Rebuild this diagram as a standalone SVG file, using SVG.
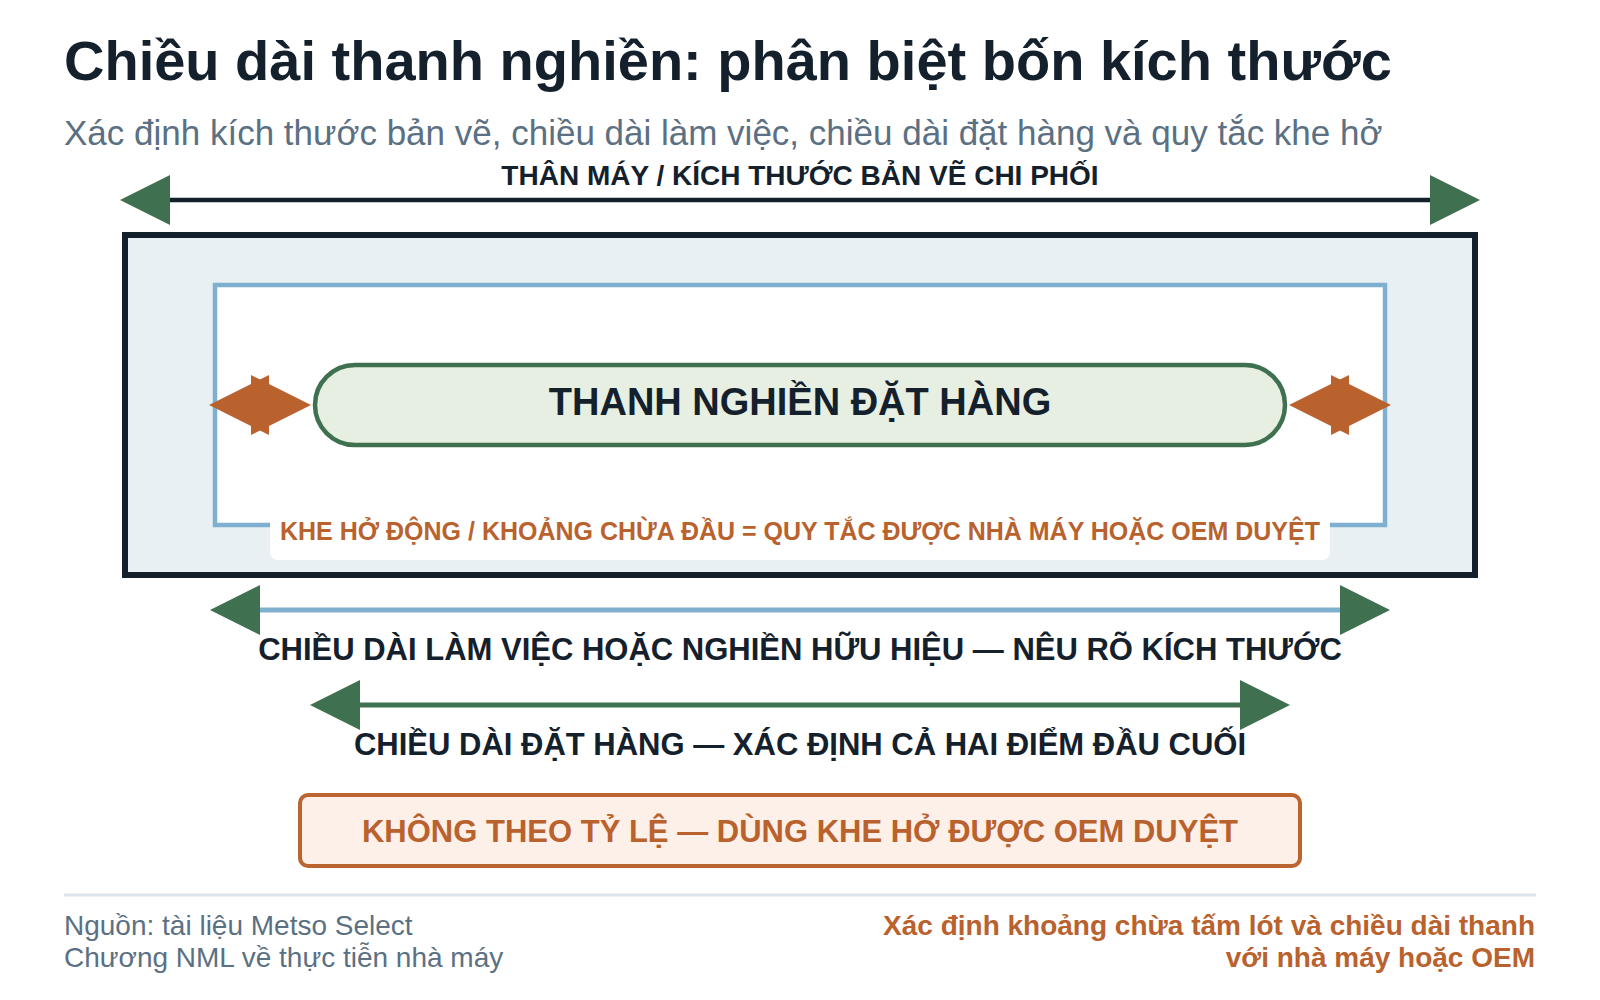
<svg xmlns="http://www.w3.org/2000/svg" width="1600" height="1000" viewBox="0 0 1600 1000">
  <style>
    text { font-family: "Liberation Sans", Arial, "Noto Sans", sans-serif; }
    .title { font-size: 56px; font-weight: 700; fill: #14212d; }
    .sub { font-size: 35px; fill: #5b7083; }
    .dim { font-size: 31px; font-weight: 700; fill: #14212d; text-anchor: middle; }
    .top { font-size: 28px; font-weight: 700; fill: #14212d; text-anchor: middle; }
    .pilltxt { font-size: 38px; font-weight: 700; fill: #14212d; text-anchor: middle; }
    .rule { font-size: 25px; font-weight: 700; fill: #b9622e; text-anchor: middle; }
    .warn { font-size: 31px; font-weight: 700; fill: #b9622e; text-anchor: middle; }
    .foot { font-size: 28px; fill: #5b7083; }
    .footr { font-size: 28px; font-weight: 700; fill: #b9622e; text-anchor: end; }
  </style>
  <defs>
    <marker id="garrow" viewBox="0 0 50 50" markerUnits="userSpaceOnUse" markerWidth="50" markerHeight="50" refX="0" refY="25" orient="auto-start-reverse">
      <path d="M0,0 L50,25 L0,50 Z" fill="#3f7150"/>
    </marker>
    <marker id="oarrow" viewBox="0 0 60 60" markerUnits="userSpaceOnUse" markerWidth="60" markerHeight="60" refX="54" refY="30" orient="auto-start-reverse">
      <path d="M0,0 L60,30 L0,60 Z" fill="#b9622e"/>
    </marker>
  </defs>
  <rect x="0" y="0" width="1600" height="1000" fill="#ffffff"/>

  <g id="header">
    <text class="title" x="64" y="80">Chiều dài thanh nghiền: phân biệt bốn kích thước</text>
    <text class="sub" x="64" y="145">Xác định kích thước bản vẽ, chiều dài làm việc, chiều dài đặt hàng và quy tắc khe hở</text>
  </g>

  <g id="shell">
    <rect x="125" y="235" width="1350" height="340" fill="#e9f0f4" stroke="#14212d" stroke-width="6"/>
  </g>
  <g id="working-zone">
    <rect x="215" y="285" width="1170" height="240" fill="#ffffff" stroke="#80b0d0" stroke-width="4.5"/>
  </g>
  <g id="ordered-rod">
    <rect x="315" y="365" width="970" height="80" rx="40" ry="40" fill="#e6efe2" stroke="#3f7150" stroke-width="4.5"/>
    <text class="pilltxt" x="800" y="415">THANH NGHIỀN ĐẶT HÀNG</text>
  </g>
  <g id="clearance-label">
    <rect x="270" y="503" width="1060" height="57" rx="8" ry="8" fill="#ffffff"/>
    <text class="rule" x="800" y="540">KHE HỞ ĐỘNG / KHOẢNG CHỪA ĐẦU = QUY TẮC ĐƯỢC NHÀ MÁY HOẶC OEM DUYỆT</text>
  </g>

  <g id="connectors">
    <line x1="170" y1="200" x2="1430" y2="200" stroke="#14212d" stroke-width="4.5" marker-start="url(#garrow)" marker-end="url(#garrow)"/>
    <line x1="215" y1="405" x2="305" y2="405" stroke="#b9622e" stroke-width="4" marker-start="url(#oarrow)" marker-end="url(#oarrow)"/>
    <line x1="1295" y1="405" x2="1385" y2="405" stroke="#b9622e" stroke-width="4" marker-start="url(#oarrow)" marker-end="url(#oarrow)"/>
    <line x1="260" y1="610" x2="1340" y2="610" stroke="#80b0d0" stroke-width="5" marker-start="url(#garrow)" marker-end="url(#garrow)"/>
    <line x1="360" y1="705" x2="1240" y2="705" stroke="#3f7150" stroke-width="5" marker-start="url(#garrow)" marker-end="url(#garrow)"/>
  </g>

  <g id="dimension-labels">
    <text class="top" x="800" y="185">THÂN MÁY / KÍCH THƯỚC BẢN VẼ CHI PHỐI</text>
    <text class="dim" x="800" y="660">CHIỀU DÀI LÀM VIỆC HOẶC NGHIỀN HỮU HIỆU — NÊU RÕ KÍCH THƯỚC</text>
    <text class="dim" x="800" y="755">CHIỀU DÀI ĐẶT HÀNG — XÁC ĐỊNH CẢ HAI ĐIỂM ĐẦU CUỐI</text>
  </g>

  <g id="scale-warning">
    <rect x="300" y="795" width="1000" height="71" rx="8" ry="8" fill="#fdf0e8" stroke="#bb6430" stroke-width="4"/>
    <text class="warn" x="800" y="842">KHÔNG THEO TỶ LỆ — DÙNG KHE HỞ ĐƯỢC OEM DUYỆT</text>
  </g>

  <g id="footer">
    <line x1="64" y1="895" x2="1536" y2="895" stroke="#dde4ec" stroke-width="3"/>
    <text class="foot" x="64" y="935">Nguồn: tài liệu Metso Select</text>
    <text class="foot" x="64" y="967">Chương NML về thực tiễn nhà máy</text>
    <text class="footr" x="1535" y="935">Xác định khoảng chừa tấm lót và chiều dài thanh</text>
    <text class="footr" x="1535" y="967">với nhà máy hoặc OEM</text>
  </g>
</svg>
